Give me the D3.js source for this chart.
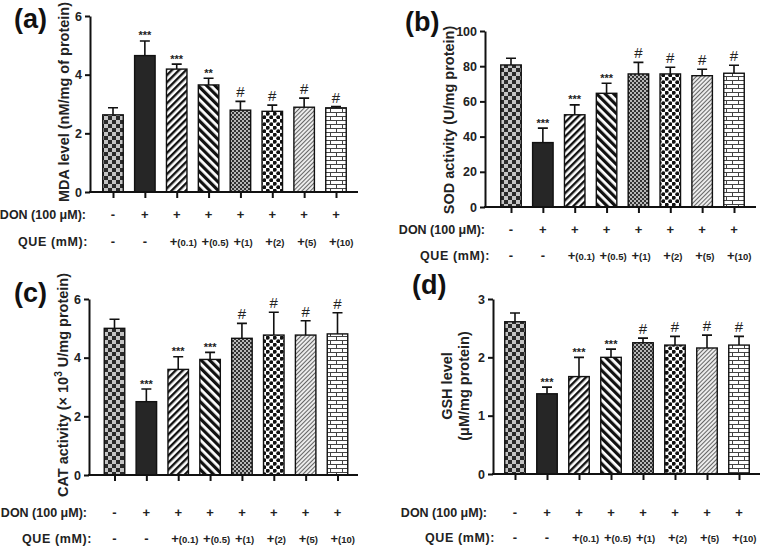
<!DOCTYPE html>
<html><head><meta charset="utf-8">
<script src="https://cdn.jsdelivr.net/npm/d3@7"></script>
<style>
body{margin:0;background:#fff;}
text{font-family:"Liberation Sans",Arial,sans-serif;}
</style></head>
<body><svg id="c" width="767" height="547"></svg>
<script>
// ---------- DATA ----------
const groups = ["Control","DON","DON+QUE0.1","DON+QUE0.5","DON+QUE1","DON+QUE2","DON+QUE5","DON+QUE10"];
const donRow = ["-","+","+","+","+","+","+","+"];
const queRow = ["-","-","+(0.1)","+(0.5)","+(1)","+(2)","+(5)","+(10)"];

const mdaMean = [2.63,4.65,4.19,3.65,2.79,2.75,2.89,2.87];
const mdaSD   = [0.24,0.50,0.17,0.23,0.30,0.21,0.31,0.04];
const mdaSig  = ["","***","***","**","#","#","#","#"];
const mdaTicks = [0,2,4,6];

const sodMean = [80.7,36.6,52.4,64.6,75.6,75.6,74.6,76.0];
const sodSD   = [3.8,8.2,5.6,5.7,6.6,3.8,3.7,4.5];
const sodSig  = ["","***","***","***","#","#","#","#"];
const sodTicks = [0,20,40,60,80,100];

const catMean = [5.0,2.5,3.6,3.94,4.66,4.77,4.77,4.81];
const catSD   = [0.31,0.43,0.43,0.24,0.51,0.78,0.49,0.72];
const catSig  = ["","***","***","***","#","#","#","#"];
const catTicks = [0,2,4,6];

const gshMean = [2.61,1.375,1.67,2.0,2.25,2.21,2.16,2.21];
const gshSD   = [0.15,0.115,0.33,0.14,0.08,0.15,0.22,0.15];
const gshSig  = ["","***","***","***","#","#","#","#"];
const gshTicks = [0,1,2,3];

// ---------- PATTERNS ----------
const svg = d3.select("#c");
const defs = svg.append("defs");
function pat(id,w,h,transform){
  const p = defs.append("pattern").attr("id",id).attr("patternUnits","userSpaceOnUse")
    .attr("width",w).attr("height",h);
  if(transform) p.attr("patternTransform",transform);
  return p;
}
// 1 coarse checker
let p = pat("p1",8,8);
p.append("rect").attr("width",8).attr("height",8).attr("fill","#c4c4c4");
p.append("rect").attr("width",4).attr("height",4).attr("fill","#2a2a2a");
p.append("rect").attr("x",4).attr("y",4).attr("width",4).attr("height",4).attr("fill","#2a2a2a");
// 3 "/" stripes
p = pat("p3",5,5,"rotate(45)");
p.append("rect").attr("width",5).attr("height",5).attr("fill","#fff");
p.append("rect").attr("width",2.4).attr("height",5).attr("fill","#111");
// 4 "\" stripes
p = pat("p4",6,6,"rotate(-45)");
p.append("rect").attr("width",6).attr("height",6).attr("fill","#fff");
p.append("rect").attr("width",3.2).attr("height",6).attr("fill","#111");
// 5 fine checker
p = pat("p5",4,4);
p.append("rect").attr("width",4).attr("height",4).attr("fill","#b8b8b8");
p.append("rect").attr("width",2).attr("height",2).attr("fill","#333");
p.append("rect").attr("x",2).attr("y",2).attr("width",2).attr("height",2).attr("fill","#333");
// 6 diamond dots
p = pat("p6",7,7);
p.append("rect").attr("width",7).attr("height",7).attr("fill","#fff");
p.append("circle").attr("cx",1.75).attr("cy",1.75).attr("r",2).attr("fill","#111");
p.append("circle").attr("cx",5.25).attr("cy",5.25).attr("r",2).attr("fill","#111");
// 7 fine hatch
p = pat("p7",3,3,"rotate(45)");
p.append("rect").attr("width",3).attr("height",3).attr("fill","#ececec");
p.append("rect").attr("width",1).attr("height",3).attr("fill","#666");
// 8 brick
p = pat("p8",12,8);
p.append("rect").attr("width",12).attr("height",8).attr("fill","#fff");
p.append("path").attr("d","M0,0.5H12M0,4.5H12M0.5,0.5V4.5M6.5,4.5V8.5")
  .attr("stroke","#444").attr("stroke-width",1).attr("fill","none");
const fills = ["url(#p1)","#262626","url(#p3)","url(#p4)","url(#p5)","url(#p6)","url(#p7)","url(#p8)"];

// ---------- PANEL ----------
function panel(cfg){
  const g = svg.append("g");
  const x = d3.scalePoint().domain(groups).range([cfg.c0,cfg.c1]);
  const y = d3.scaleLinear().domain([0,cfg.max]).range([cfg.y0,cfg.yTop]);
  const bw = 20.5;
  const rows = groups.map((d,i)=>({g:d,m:cfg.mean[i],s:cfg.sd[i],sig:cfg.sig[i],f:fills[i]}));

  // error bars
  g.selectAll(".eb").data(rows).join("path")
    .attr("d",d=>{const cx=x(d.g),t=y(d.m+d.s);return `M${cx},${y(d.m)}V${t}M${cx-5},${t}H${cx+5}`;})
    .attr("stroke","#111").attr("stroke-width",1.6).attr("fill","none");
  // bars
  g.selectAll(".bar").data(rows).join("rect")
    .attr("x",d=>x(d.g)-bw/2).attr("y",d=>y(d.m))
    .attr("width",bw).attr("height",d=>y(0)-y(d.m))
    .attr("fill",d=>d.f).attr("stroke","#111").attr("stroke-width",1.4);
  // significance
  g.selectAll(".sig").data(rows).join("text")
    .attr("x",d=>x(d.g)).attr("y",d=>y(d.m+d.s)-(d.sig==="#"?4:1.5))
    .attr("text-anchor","middle")
    .attr("font-size",d=>d.sig==="#"?15:11).attr("font-weight",d=>d.sig==="#"?"normal":"bold")
    .attr("fill","#222").text(d=>d.sig);

  // y axis
  const ya = g.append("g").attr("transform",`translate(${cfg.ax},0)`)
    .call(d3.axisLeft(y).tickValues(cfg.ticks).tickFormat(d3.format("d")).tickSize(5).tickSizeOuter(0).tickPadding(3));
  ya.select(".domain").attr("stroke","#111").attr("stroke-width",2);
  ya.selectAll(".tick line").attr("stroke","#111").attr("stroke-width",2);
  ya.selectAll(".tick text").attr("font-family","Liberation Sans, Arial").attr("font-size",12.5)
    .attr("font-weight","bold").attr("fill","#222");

  // x axis
  const xa = g.append("g").attr("transform",`translate(0,${cfg.y0})`)
    .call(d3.axisBottom(x).tickSize(6).tickFormat(""));
  xa.select(".domain").remove();
  xa.selectAll(".tick line").attr("stroke","#111").attr("stroke-width",2);
  g.append("line").attr("x1",cfg.ax-1).attr("x2",cfg.xEnd).attr("y1",cfg.y0).attr("y2",cfg.y0)
    .attr("stroke","#111").attr("stroke-width",2);

  // treatment rows
  g.append("text").attr("x",cfg.donX).attr("y",cfg.donY).attr("text-anchor","end")
    .attr("font-size",12.5).attr("font-weight","bold").attr("fill","#222").text("DON (100 μM):");
  g.append("text").attr("x",cfg.queX).attr("y",cfg.queY).attr("text-anchor","end")
    .attr("font-size",12.5).attr("font-weight","bold").attr("fill","#222").attr("letter-spacing",0.6).text("QUE (mM):");
  g.selectAll(".don").data(groups).join("text")
    .attr("x",d=>x(d)).attr("y",cfg.donY).attr("text-anchor","middle")
    .attr("font-size",13).attr("font-weight","bold").attr("fill","#222").text((d,i)=>donRow[i]);
  g.selectAll(".que").data(groups).join("text")
    .attr("x",(d,i)=>queRow[i].length>1?x(d)-7:x(d)).attr("y",cfg.queY)
    .attr("text-anchor",(d,i)=>queRow[i].length>1?"start":"middle")
    .attr("font-weight","bold").attr("fill","#222")
    .each(function(d,i){
      const t=d3.select(this), s=queRow[i];
      if(s.length>1){
        t.append("tspan").attr("font-size",13).text(s[0]);
        t.append("tspan").attr("font-size",9.5).text(s.slice(1));
      } else t.attr("font-size",13).text(s);
    });

  // y label
  const yl = g.append("text").attr("transform",`translate(${cfg.labX},${cfg.labY}) rotate(-90)`)
    .attr("text-anchor","middle").attr("font-size",14.5).attr("font-weight","bold").attr("fill","#222");
  cfg.label(yl);

  // panel letter
  g.append("text").attr("x",cfg.letX).attr("y",cfg.letY)
    .attr("font-family","Lato, 'Open Sans', sans-serif").attr("font-size",27).attr("font-weight","bold")
    .attr("fill","#111").text(cfg.letter);
}

panel({mean:mdaMean,sd:mdaSD,sig:mdaSig,ticks:mdaTicks,max:6,
  ax:90,xEnd:358,c0:113,c1:336,y0:192,yTop:16,donX:86,donY:219,queX:88,queY:246,
  labX:69,labY:102,label:t=>t.text("MDA level (nM/mg of protein)"),letter:"(a)",letX:14,letY:28});
panel({mean:sodMean,sd:sodSD,sig:sodSig,ticks:sodTicks,max:100,
  ax:485,xEnd:756,c0:511,c1:734,y0:207,yTop:31,donX:485,donY:234,queX:490,queY:260,
  labX:454,labY:120,label:t=>t.text("SOD activity (U/mg protein)"),letter:"(b)",letX:405,letY:31});
panel({mean:catMean,sd:catSD,sig:catSig,ticks:catTicks,max:6,
  ax:89,xEnd:358,c0:114.5,c1:337.5,y0:475,yTop:299,donX:87,donY:517,queX:92,queY:543,
  labX:68,labY:385,label:t=>{t.append("tspan").text("CAT activity (× 10");
     t.append("tspan").attr("font-size",10).attr("dy",-6).text("3");
     t.append("tspan").attr("dy",6).text(" U/mg protein)");},letter:"(c)",letX:14,letY:302});
panel({mean:gshMean,sd:gshSD,sig:gshSig,ticks:gshTicks,max:3,
  ax:493,xEnd:760,c0:515,c1:739,y0:474,yTop:299,donX:487,donY:517,queX:495,queY:542,
  labX:452,labY:386,label:t=>{t.append("tspan").attr("x",0).attr("dy",0).text("GSH level");
     t.append("tspan").attr("x",0).attr("dy",17).text("(μM/mg protein)");},letter:"(d)",letX:412,letY:294});
</script></body></html>
